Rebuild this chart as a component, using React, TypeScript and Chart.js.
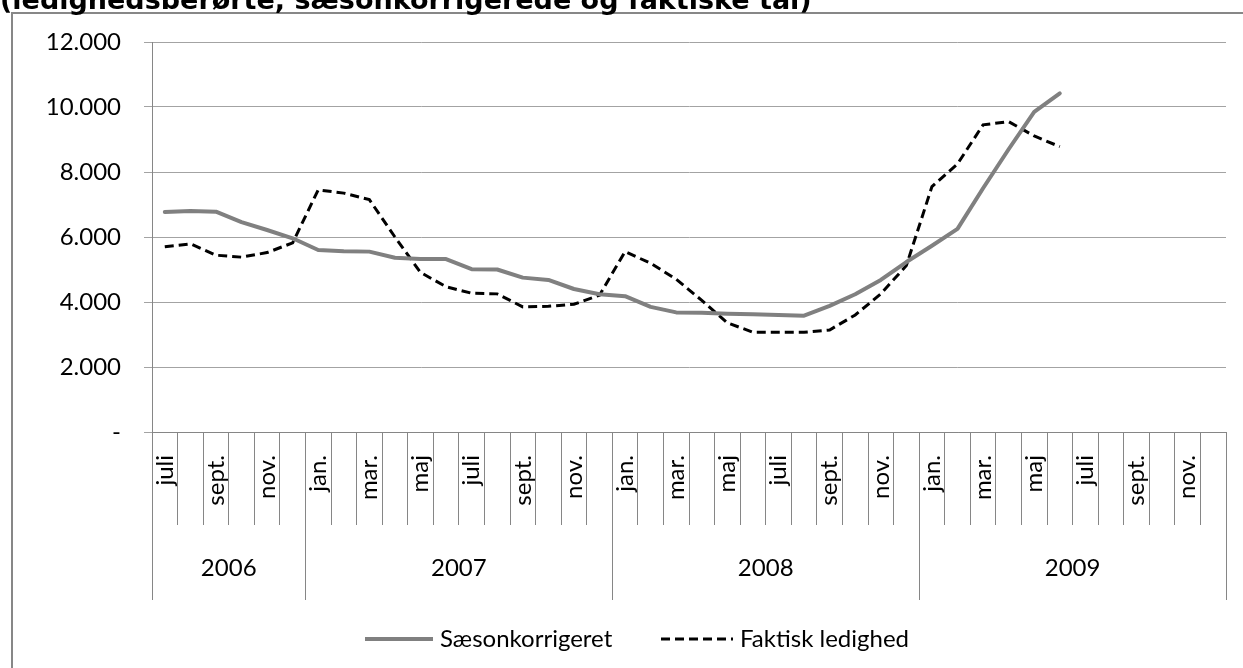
import React, { useEffect, useRef } from 'react';
import { Chart, registerables } from 'chart.js';

Chart.register(...registerables);

// ---- data ----
const monthLabels: string[] = [
  'juli', 'aug.', 'sept.', 'okt.', 'nov.', 'dec.',
  'jan.', 'feb.', 'mar.', 'april', 'maj', 'juni', 'juli', 'aug.', 'sept.', 'okt.', 'nov.', 'dec.',
  'jan.', 'feb.', 'mar.', 'april', 'maj', 'juni', 'juli', 'aug.', 'sept.', 'okt.', 'nov.', 'dec.',
  'jan.', 'feb.', 'mar.', 'april', 'maj', 'juni', 'juli', 'aug.', 'sept.', 'okt.', 'nov.', 'dec.',
];
const years: string[] = ['2006', '2007', '2008', '2009'];
const yearMonthCounts: number[] = [6, 12, 12, 12];

const saesonkorrigeret: (number | null)[] = [
  6770, 6800, 6780, 6460, 6215, 5960,
  5600, 5560, 5550, 5360, 5320, 5320, 5010, 5000, 4750, 4680, 4400, 4240,
  4180, 3850, 3680, 3670, 3640, 3620, 3600, 3580, 3880, 4240, 4680, 5230,
  5730, 6250, 7500, 8700, 9850, 10420, null, null, null, null, null, null,
];
const faktisk: (number | null)[] = [
  5700, 5790, 5440, 5380, 5520, 5820,
  7450, 7350, 7150, 6000, 4910, 4470, 4270, 4250, 3850, 3870, 3930, 4210,
  5550, 5190, 4700, 4050, 3360, 3070, 3070, 3070, 3140, 3600, 4250, 5120,
  7550, 8250, 9450, 9550, 9110, 8780, null, null, null, null, null, null,
];
const yMin = 0;
const yMax = 12000;
const yStep = 2000;

const seriesNames = ['Sæsonkorrigeret', 'Faktisk ledighed'];
const titleText = '(ledighedsberørte, sæsonkorrigerede og faktiske tal)';

const FONT = 'Lato, "Noto Sans", sans-serif';
const AXIS_COLOR = '#868686';
const GRID_COLOR = '#a3a3a3';

function fmt(v: number): string {
  if (v === 0) return '-';
  return String(v).replace(/\B(?=(\d{3})+(?!\d))/g, '.');
}

const yearRowPlugin = {
  id: 'yearRow',
  afterDraw(chart: any) {
    const xs = chart.scales.x;
    const ctx = chart.ctx as CanvasRenderingContext2D;
    const top = chart.chartArea.bottom;
    const bounds: number[] = [0];
    let acc = 0;
    yearMonthCounts.forEach((c) => { acc += c; bounds.push(acc); });
    ctx.save();
    ctx.strokeStyle = AXIS_COLOR;
    ctx.lineWidth = 1;
    bounds.forEach((b) => {
      const px = Math.round(xs.getPixelForValue(b - 0.5)) + 0.5;
      ctx.beginPath();
      ctx.moveTo(px, top);
      ctx.lineTo(px, top + 168);
      ctx.stroke();
    });
    ctx.font = `24px ${FONT}`;
    ctx.fillStyle = '#000';
    ctx.textAlign = 'center';
    ctx.textBaseline = 'middle';
    years.forEach((y, i) => {
      const a = xs.getPixelForValue(bounds[i] - 0.5);
      const b = xs.getPixelForValue(bounds[i + 1] - 0.5);
      ctx.fillText(y, (a + b) / 2, top + 136);
    });
    ctx.restore();
  },
};

export default function App() {
  const canvasRef = useRef<HTMLCanvasElement | null>(null);

  useEffect(() => {
    if (!canvasRef.current) return;
    const chart = new Chart(canvasRef.current, {
      type: 'line',
      data: {
        labels: monthLabels,
        datasets: [
          {
            label: seriesNames[0],
            data: saesonkorrigeret,
            borderColor: '#808080',
            backgroundColor: '#808080',
            borderWidth: 4,
            pointRadius: 0,
            tension: 0,
            borderJoinStyle: 'round',
            borderCapStyle: 'round',
          },
          {
            label: seriesNames[1],
            data: faktisk,
            borderColor: '#000000',
            backgroundColor: '#000000',
            borderWidth: 3,
            borderDash: [9, 5],
            pointRadius: 0,
            tension: 0,
          },
        ],
      },
      options: {
        responsive: false,
        animation: false,
        devicePixelRatio: 1,
        layout: { padding: { left: 0, top: 42, right: 17, bottom: 0 } },
        plugins: {
          legend: { display: false },
          tooltip: { enabled: false },
          title: { display: false },
        },
        scales: {
          x: {
            type: 'category',
            offset: true,
            border: { display: true, color: AXIS_COLOR, width: 1 },
            grid: {
              offset: true,
              drawOnChartArea: false,
              drawTicks: true,
              tickLength: 93,
              color: AXIS_COLOR,
            },
            ticks: {
              autoSkip: false,
              maxRotation: 90,
              minRotation: 90,
              padding: -70,
              color: '#000',
              font: { family: FONT, size: 24 },
              callback: (_v: any, i: number) => (i % 2 === 0 ? monthLabels[i] : ''),
            },
            afterFit: (s: any) => { s.height = 236; },
          },
          y: {
            min: yMin,
            max: yMax,
            border: { display: true, color: AXIS_COLOR, width: 1 },
            grid: { color: GRID_COLOR, tickLength: 8, drawTicks: true },
            ticks: {
              stepSize: yStep,
              padding: 23,
              color: '#000',
              font: { family: FONT, size: 24 },
              callback: (v: any) => fmt(Number(v)),
            },
            afterFit: (s: any) => { s.width = 152; },
          },
        },
      },
      plugins: [yearRowPlugin],
    });
    return () => chart.destroy();
  }, []);

  return (
    <div style={{ position: 'fixed', left: 0, top: 0, width: 1243, height: 668, overflow: 'hidden', background: '#fff' }}>
      <div style={{ position: 'absolute', left: 11, top: 12, width: 1300, height: 700, border: '2px solid #878787', boxSizing: 'border-box' }} />
      <canvas ref={canvasRef} width={1243} height={668} style={{ position: 'absolute', left: 0, top: 0, width: 1243, height: 668, display: 'block' }} />
      <div style={{ position: 'absolute', left: 0, top: -15, whiteSpace: 'nowrap', fontFamily: '"DejaVu Sans", Verdana, sans-serif', fontWeight: 'bold', fontSize: 27, lineHeight: '30px', color: '#000' }}>
        {titleText}
      </div>
      <div style={{ position: 'absolute', left: 0, top: 620, width: 1243, height: 36, fontFamily: FONT, fontSize: 24, color: '#000' }}>
        <svg style={{ position: 'absolute', left: 364, top: 16 }} width={70} height={6}>
          <line x1={1} y1={3} x2={69} y2={3} stroke="#808080" strokeWidth={4} />
        </svg>
        <span style={{ position: 'absolute', left: 440, top: 2, lineHeight: '32px' }}>{seriesNames[0]}</span>
        <svg style={{ position: 'absolute', left: 661, top: 16 }} width={72} height={6}>
          <line x1={0} y1={3} x2={72} y2={3} stroke="#000" strokeWidth={3} strokeDasharray="9 5" />
        </svg>
        <span style={{ position: 'absolute', left: 740, top: 2, lineHeight: '32px' }}>{seriesNames[1]}</span>
      </div>
    </div>
  );
}
